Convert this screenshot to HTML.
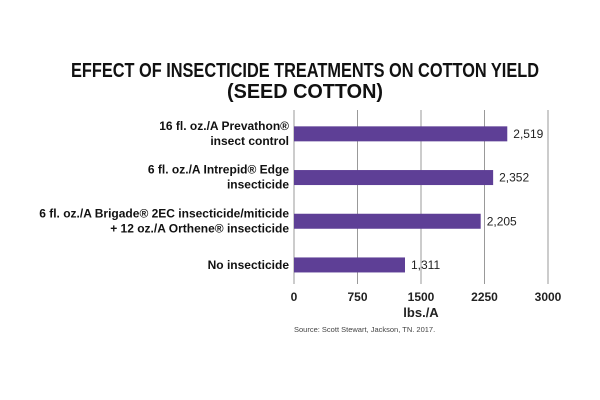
<!DOCTYPE html>
<html><head><meta charset="utf-8"><style>
html,body{margin:0;padding:0;background:#fff;}
svg{display:block;font-family:"Liberation Sans",sans-serif;}
</style></head><body>
<svg width="600" height="400" viewBox="0 0 600 400">
<text x="305" y="77" text-anchor="middle" font-size="20" font-weight="bold" fill="#111" textLength="468" lengthAdjust="spacingAndGlyphs">EFFECT OF INSECTICIDE TREATMENTS ON COTTON YIELD</text>
<text x="305" y="98" text-anchor="middle" font-size="20" font-weight="bold" fill="#111" textLength="156" lengthAdjust="spacingAndGlyphs">(SEED COTTON)</text>
<g id="grid"></g>
<g id="bars"></g>
<g id="labels"></g>
<text x="421" y="317" text-anchor="middle" font-size="13" font-weight="bold" fill="#222">lbs./A</text>
<text x="294" y="332" font-size="7.5" fill="#444">Source: Scott Stewart, Jackson, TN. 2017.</text>
</svg>
<script>
const categories = [["16 fl. oz./A Prevathon®","insect control"],["6 fl. oz./A Intrepid® Edge","insecticide"],["6 fl. oz./A Brigade® 2EC insecticide/miticide","+ 12 oz./A Orthene®  insecticide"],["No insecticide"]];
const values = [2519, 2352, 2205, 1311];
const valueLabels = ["2,519","2,352","2,205","1,311"];
const ticks = [0, 750, 1500, 2250, 3000];
const tickLabels = ["0","750","1500","2250","3000"];
const NS="http://www.w3.org/2000/svg";
const x0=294,x1=548,xMax=3000;
const xs=v=>x0+(v/xMax)*(x1-x0);
const yTop=112,band=43.7;
const yc=i=>yTop+band*(i+0.5);
const grid=document.getElementById('grid'),bars=document.getElementById('bars'),labels=document.getElementById('labels');
function mk(t,a){const e=document.createElementNS(NS,t);for(const k in a)e.setAttribute(k,a[k]);return e;}
ticks.forEach((t,i)=>{
  const l=mk('line',{x1:xs(t),x2:xs(t),y1:110,y2:284,stroke:'#999','stroke-width':1});
  
  
  grid.appendChild(l);
  const tx=mk('text',{x:xs(t),y:301,'text-anchor':'middle','font-size':12,'font-weight':'bold',fill:'#222'});
  tx.textContent=tickLabels[i];
  
  
  labels.appendChild(tx);
});
values.forEach((v,i)=>{
  const c=yc(i);
  const r=mk('rect',{x:x0,y:c-7.5,width:xs(v)-x0,height:15,fill:'#5e3f96'});
  
  
  bars.appendChild(r);
  const vt=mk('text',{x:xs(v)+6,y:c+4,'font-size':12,fill:'#222'});
  vt.textContent=valueLabels[i];
  
  
  labels.appendChild(vt);
  const lines=categories[i];
  lines.forEach((s,j)=>{
    const off=lines.length===1?0:(j===0?-4:11);
    const ct=mk('text',{x:289,y:c+off+(lines.length===1?4:0),'text-anchor':'end','font-size':12,'font-weight':'bold',fill:'#111'});
    ct.textContent=s;
    
    
    labels.appendChild(ct);
  });
});
</script>
</body></html>
